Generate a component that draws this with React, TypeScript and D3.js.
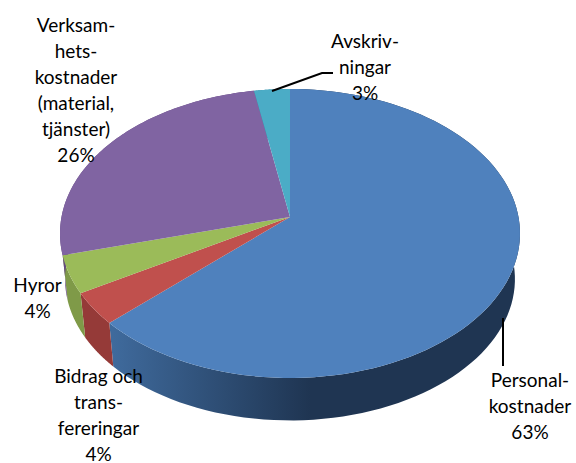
import React from "react";
import { pie, line, range, scaleLinear } from "d3";

const categories = ["Personalkostnader", "Bidrag och transfereringar", "Hyror", "Verksamhetskostnader", "Avskrivningar"];
// slice sizes, the printed labels are rounded
const sliceValues = [63, 3.6, 4.2, 26.4, 2.8];
const topColors = ["#4f81bd", "#c0504d", "#9bbb59", "#8064a2", "#4bacc6"];
const wallColors = ["url(#blueWall)", "#953a38", "#7f9a48", "#64497f", "#31859c"];

const dataLabels = [
  { lines: ["Personal-", "kostnader", "63%"], x: 530, y: 387 },
  { lines: ["Bidrag och", "trans-", "fereringar", "4%"], x: 98.5, y: 383 },
  { lines: ["Hyror", "4%"], x: 37.5, y: 292 },
  { lines: ["Verksam-", "hets-", "kostnader", "(material,", "tjänster)", "26%"], x: 76, y: 32 },
  { lines: ["Avskriv-", "ningar", "3%"], x: 365, y: 48 },
];
const leaders = [
  [[503, 318], [503, 366]],
  [[272, 91], [322, 73], [333, 73]],
];

const width = 576;
const height = 463;
const cx = 290;
const apexY = 217;
const radiusX = 228.5;
const radiusY = 142.6;
const perspective = 0.114;
const depth = 46;
const bottomScale = 0.978;

// disc point at clockwise angle from the top, seen in perspective
const project = (angle: number, r = 1): [number, number] => {
  const u = r * Math.sin(angle);
  const v = -r * Math.cos(angle);
  const w = 1 - perspective * v;
  return [cx + (radiusX * u) / w, apexY + (radiusY * v) / w];
};
const projectBottom = (angle: number): [number, number] => {
  const [x, y] = project(angle);
  return [cx + (x - cx) * bottomScale, apexY + depth + (y - apexY) * bottomScale];
};

const arcs = pie<number>().sort(null)(sliceValues);
const path = line();
const rimAngles = (a: { startAngle: number; endAngle: number }) => {
  const t = scaleLinear().domain([0, 1]).range([a.startAngle, a.endAngle]);
  return range(0, 1.0001, 0.01).map((d) => t(d));
};

export default function App() {
  return (
    <svg width={width} height={height} style={{ position: "absolute", left: 0, top: 0 }}>
      <defs>
        <linearGradient id="blueWall" gradientUnits="userSpaceOnUse" x1={113} x2={310} y1={0} y2={0}>
          <stop offset="0%" stopColor="#3f6a9c" />
          <stop offset="100%" stopColor="#1f3552" />
        </linearGradient>
      </defs>
      <g>
        {arcs.map((a, i) => {
          const angles = rimAngles(a);
          const pts = [...angles.map((t) => project(t)), ...angles.slice().reverse().map(projectBottom)];
          return <path key={categories[i]} d={path(pts) + "Z"} fill={wallColors[i]} />;
        })}
      </g>
      <g>
        {arcs.map((a, i) => {
          const pts: [number, number][] = [[cx, apexY], ...rimAngles(a).map((t) => project(t))];
          return <path key={categories[i]} d={path(pts) + "Z"} fill={topColors[i]} />;
        })}
      </g>
      <g fill="none" stroke="#000" strokeWidth={2}>
        {leaders.map((l, i) => (
          <path key={i} d={path(l as [number, number][]) ?? ""} />
        ))}
      </g>
      <g fontFamily="Lato, sans-serif" fontSize={19} fill="#000" textAnchor="middle">
        {dataLabels.map((d) => (
          <text key={d.lines[0]} x={d.x} y={d.y}>
            {d.lines.map((t, j) => (
              <tspan key={j} x={d.x} y={d.y + j * 26}>
                {t}
              </tspan>
            ))}
          </text>
        ))}
      </g>
    </svg>
  );
}
